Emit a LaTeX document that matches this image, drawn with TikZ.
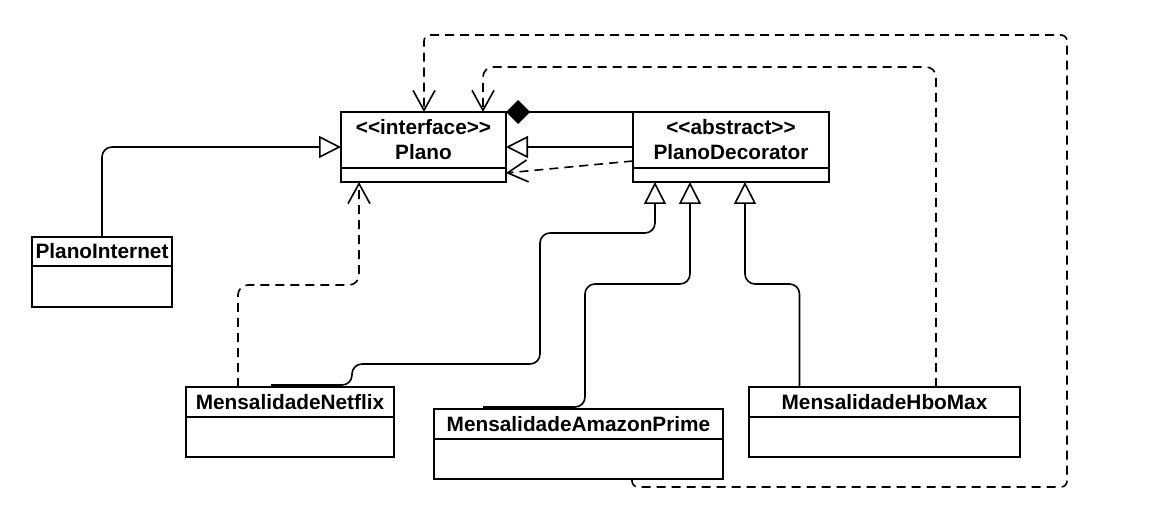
\documentclass[tikz,border=0pt]{standalone}
\usepackage{fontspec}
\setmainfont{Liberation Sans}
\usetikzlibrary{arrows.meta, positioning}

\begin{document}
\begin{tikzpicture}[x=1pt,y=-1pt,
  classhead/.style={draw,line width=1.8pt,inner sep=0pt,outer sep=0pt,align=center,font=\bfseries\fontsize{20.8}{25}\selectfont},
  classbody/.style={draw,line width=1.8pt,inner sep=0pt,outer sep=0pt},
  inherit/.style={line width=1.6pt,rounded corners=10pt,-{Triangle[open,length=22pt,width=22pt,line join=miter]}},
  depend/.style={line width=1.6pt,dash pattern=on 9pt off 6pt,rounded corners=10pt,-{Straight Barb[length=20pt,width=22pt]}},
  compose/.style={line width=1.6pt,-{Diamond[length=24pt,width=24pt]}}]
  \useasboundingbox (0,0) rectangle (1161,518);
  % classes
  \node[classhead,minimum width=165pt,minimum height=56pt] (plano) at (423.5,140) {<{}<interface>{}>\\Plano};
  \node[classbody,minimum width=165pt,minimum height=14pt,below=0pt of plano] (plano-b) {};
  \node[classhead,minimum width=196pt,minimum height=56pt] (deco) at (731,140) {<{}<abstract>{}>\\PlanoDecorator};
  \node[classbody,minimum width=196pt,minimum height=14pt,below=0pt of deco] (deco-b) {};
  \node[classhead,minimum width=140pt,minimum height=29pt] (internet) at (102,251.5) {PlanoInternet};
  \node[classbody,minimum width=140pt,minimum height=41pt,below=0pt of internet] (internet-b) {};
  \node[classhead,minimum width=208pt,minimum height=30pt] (netflix) at (290,402) {MensalidadeNetflix};
  \node[classbody,minimum width=208pt,minimum height=40pt,below=0pt of netflix] (netflix-b) {};
  \node[classhead,minimum width=289pt,minimum height=30pt] (amazon) at (578.5,424) {MensalidadeAmazonPrime};
  \node[classbody,minimum width=289pt,minimum height=40pt,below=0pt of amazon] (amazon-b) {};
  \node[classhead,minimum width=271pt,minimum height=30pt] (hbo) at (884.5,402) {MensalidadeHboMax};
  \node[classbody,minimum width=271pt,minimum height=40pt,below=0pt of hbo] (hbo-b) {};
  % relations
  \draw[inherit] (internet.north) |- ([yshift=-7pt]plano.west);
  \draw[inherit] ([yshift=-7pt]deco.west) -- ([yshift=-7pt]plano.east);
  \draw[depend] ([yshift=-21pt]deco.west) -- ([yshift=-33pt]plano.east);
  \draw[compose] (deco.north west) -- (plano.north east);
  \draw[depend] ([xshift=-52pt]netflix.north) |- (359,285) -- ([xshift=-64.5pt]plano-b.south);
  \draw[inherit] ([shift={(-19pt,2pt)}]netflix.north) -- (352,385) |- (540,364) |- (655,233) -- ([xshift=-76pt]deco-b.south);
  \draw[inherit] ([shift={(-95.5pt,2pt)}]amazon.north) -- (585,407) |- (690,284) -- ([xshift=-41pt]deco-b.south);
  \draw[inherit] ([xshift=-85pt]hbo.north) |- (745,284) -- ([xshift=14pt]deco-b.south);
  \draw[depend] ([xshift=51.5pt]hbo.north) |- (483,67) -- ([xshift=59.5pt]plano.north);
  \draw[depend,rounded corners=6pt] ([xshift=53.5pt]amazon-b.south) |- (1067,487) |- (424,35) -- ([xshift=0.5pt]plano.north);
\end{tikzpicture}
\end{document}
